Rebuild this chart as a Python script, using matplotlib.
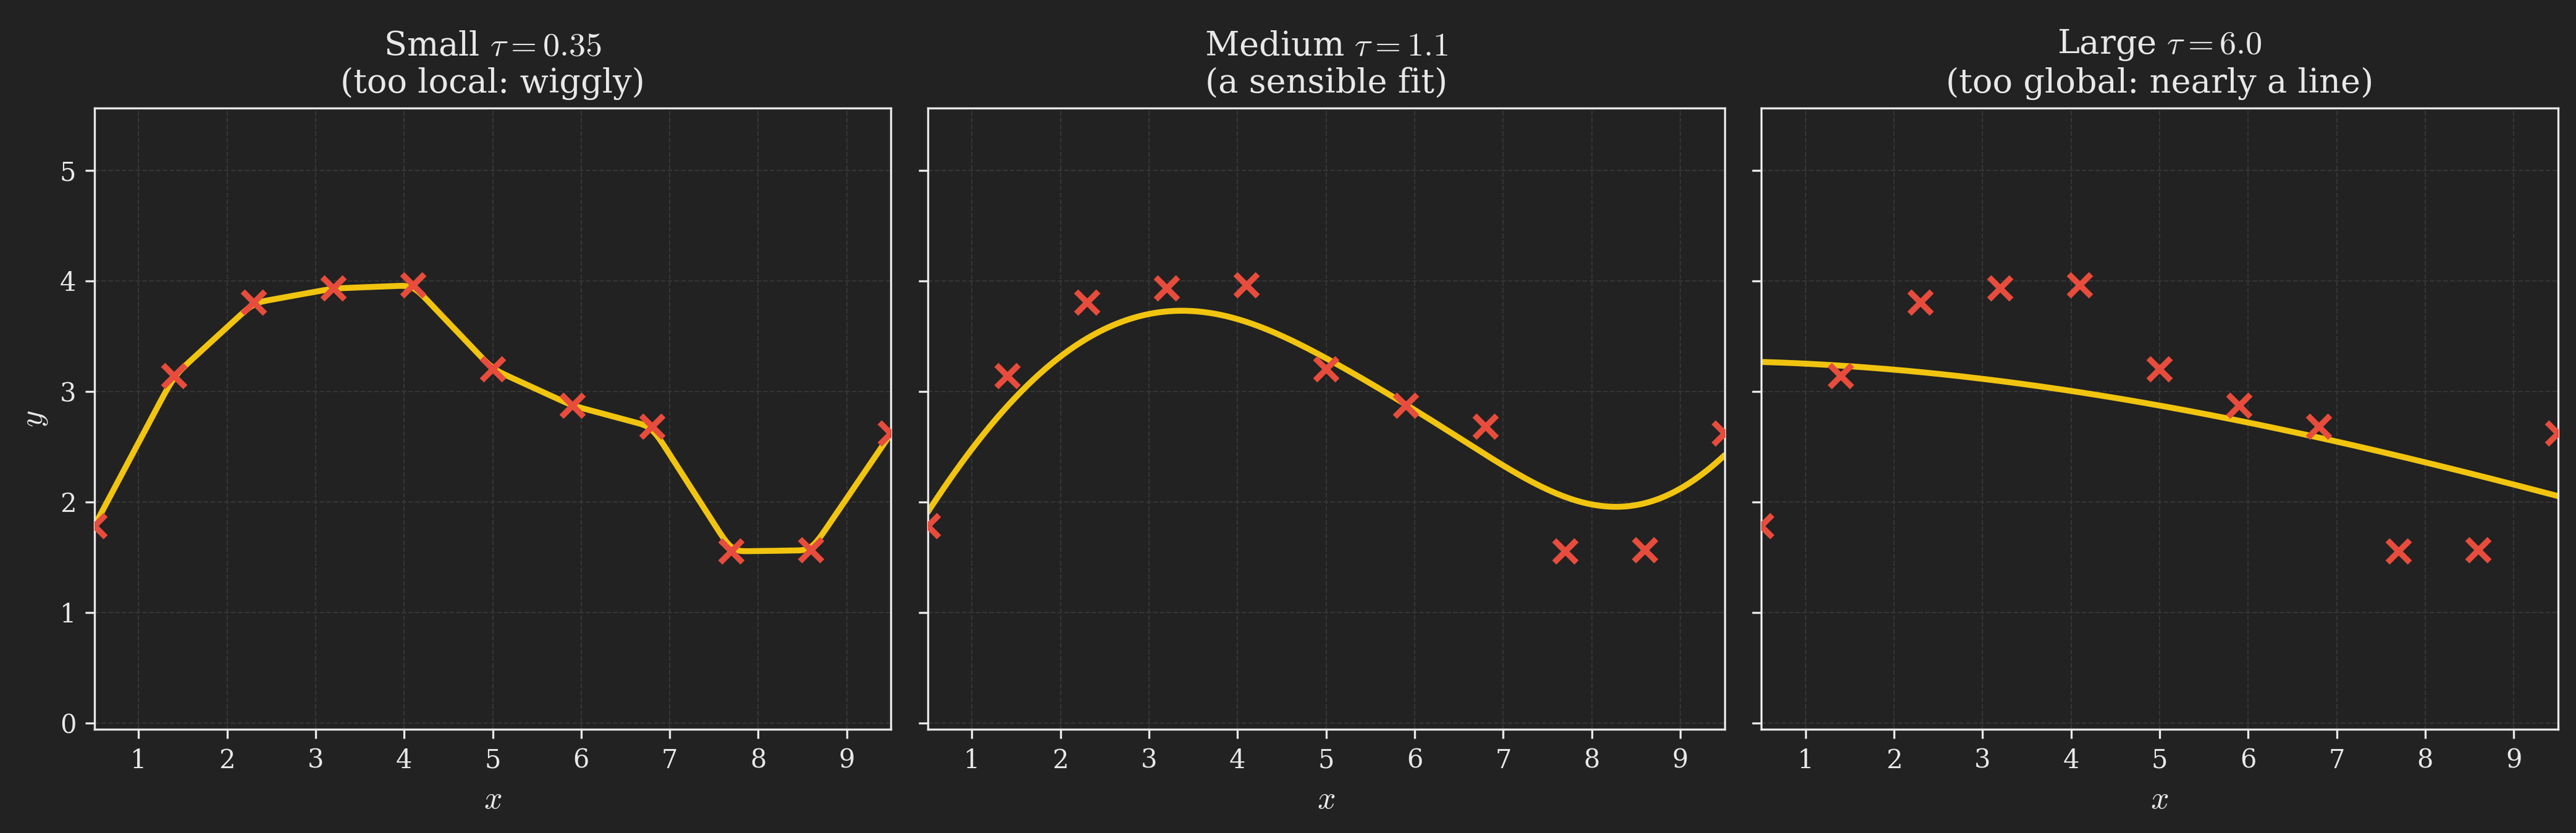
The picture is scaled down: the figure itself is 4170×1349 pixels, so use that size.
import numpy as np
import matplotlib
matplotlib.use("Agg")
import matplotlib.pyplot as plt

# ---- data ----
x_data = [0.5, 1.4, 2.3, 3.2, 4.1, 5.0, 5.9, 6.8, 7.7, 8.6, 9.5]
y_data = [1.78, 3.14, 3.80, 3.93, 3.96, 3.20, 2.87, 2.68, 1.55, 1.56, 2.62]
taus = [0.35, 1.1, 6.0]
size_names = ["Small", "Medium", "Large"]
subtitles = ["(too local: wiggly)", "(a sensible fit)", "(too global: nearly a line)"]
tau_labels = ["0.35", "1.1", "6.0"]
x_ticks = [1, 2, 3, 4, 5, 6, 7, 8, 9]
y_ticks = [0, 1, 2, 3, 4, 5]

BG = "#222222"
FG = "#e8e8e8"
LINE = "#f1c40f"
MARK = "#e74c3c"
GRID = "#363636"

plt.rcParams.update({
    "font.family": ["DejaVu Serif"],
    "mathtext.fontset": "cm",
    "figure.facecolor": BG,
    "axes.facecolor": BG,
    "savefig.facecolor": BG,
    "text.color": FG,
    "axes.labelcolor": FG,
    "xtick.color": FG,
    "ytick.color": FG,
    "axes.edgecolor": FG,
})


def lwr(xq, xs, ys, tau):
    xs = np.asarray(xs, float)
    ys = np.asarray(ys, float)
    X = np.column_stack([np.ones_like(xs), xs])
    out = []
    for q in xq:
        w = np.exp(-(xs - q) ** 2 / (2 * tau ** 2))
        W = np.diag(w)
        theta = np.linalg.solve(X.T @ W @ X, X.T @ W @ ys)
        out.append(theta[0] + theta[1] * q)
    return np.array(out)


fig, axes = plt.subplots(1, 3, figsize=(13.9, 4.4967), dpi=300, sharey=True)
fig.subplots_adjust(left=0.0366, right=0.993, bottom=0.1242, top=0.870, wspace=0.046)

xq = np.linspace(min(x_data), max(x_data), 400)
for i, ax in enumerate(axes):
    ax.set_axisbelow(True)
    ax.grid(True, color=GRID, linestyle="--", linewidth=0.5)
    yfit = lwr(xq, x_data, y_data, taus[i])
    ax.plot(xq, yfit, color=LINE, linewidth=2.3, zorder=2, solid_capstyle="round")
    ax.plot(x_data, y_data, linestyle="none", marker="x", color=MARK,
            markersize=8.5, markeredgewidth=2.3, zorder=3)
    ax.set_xlim(0.5, 9.5)
    ax.set_ylim(-0.06, 5.56)
    ax.set_xticks(x_ticks)
    ax.set_yticks(y_ticks)
    ax.tick_params(labelsize=10, length=3.5, width=0.8)
    for sp in ax.spines.values():
        sp.set_color(FG)
        sp.set_linewidth(0.8)
    ax.set_title(size_names[i] + r" $\tau = " + tau_labels[i] + "$\n" + subtitles[i],
                 fontsize=13, color=FG, pad=6)
    ax.set_xlabel("$x$", fontsize=12.5, labelpad=4)
axes[0].set_ylabel("$y$", fontsize=12.5, labelpad=4)

fig.savefig("out.png", dpi=300)
